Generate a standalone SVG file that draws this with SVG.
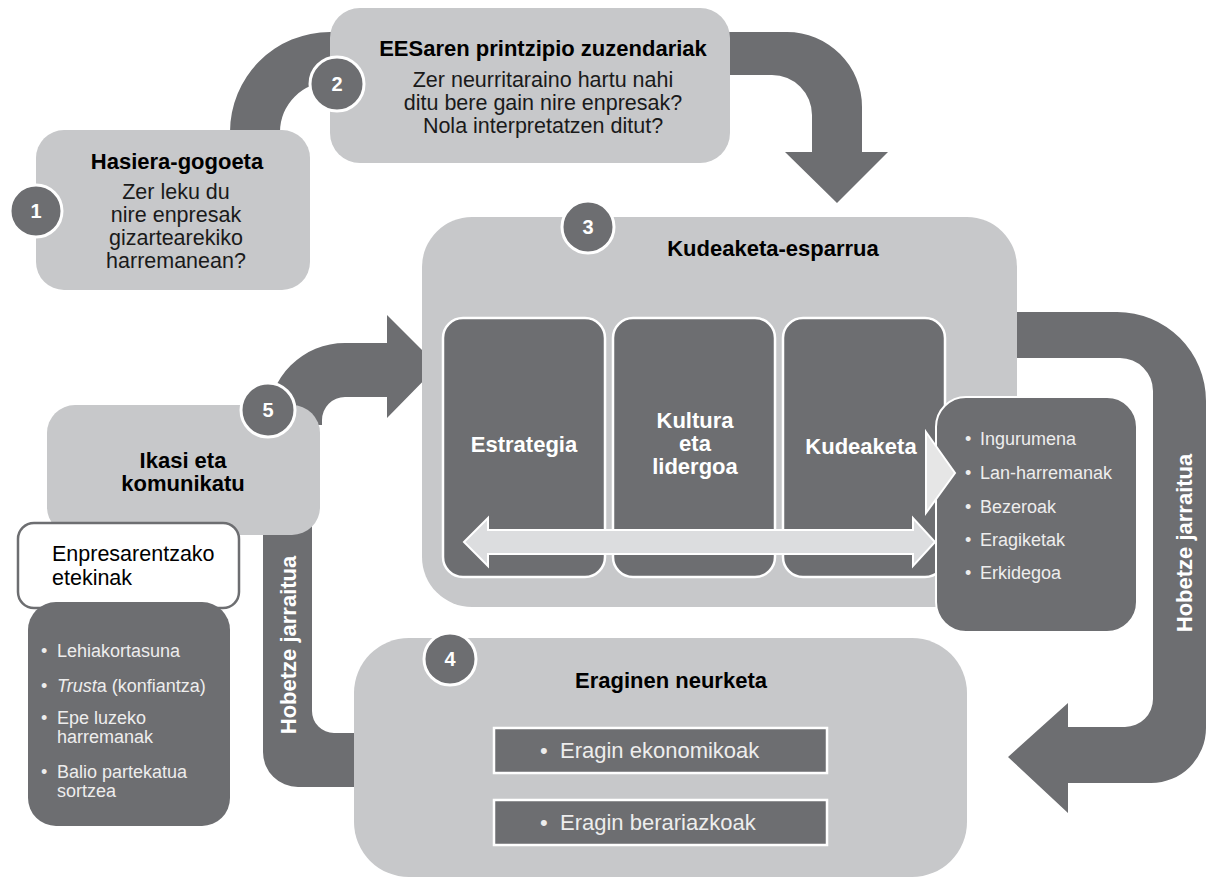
<svg xmlns="http://www.w3.org/2000/svg" width="1210" height="879" viewBox="0 0 1210 879">
<defs>
<style>
.lt{fill:#c7c8ca}
.band{fill:#6d6e71}
.title{font-family:"Liberation Sans",Arial,sans-serif;font-weight:bold;font-size:22px;fill:#000;text-anchor:middle}
.body{font-family:"Liberation Sans",Arial,sans-serif;font-size:21.5px;fill:#1a1a1a;text-anchor:middle}
.num{font-family:"Liberation Sans",Arial,sans-serif;font-weight:bold;font-size:20px;fill:#fff;text-anchor:middle}
.circ{fill:#6d6e71;stroke:#fff;stroke-width:3}
.inner{fill:#6d6e71;stroke:#fff;stroke-width:2.5}
.wt{font-family:"Liberation Sans",Arial,sans-serif;font-weight:bold;font-size:22px;fill:#fff;text-anchor:middle}
.li{font-family:"Liberation Sans",Arial,sans-serif;font-size:18px;fill:#ededed}
.eff{font-family:"Liberation Sans",Arial,sans-serif;font-size:22px;fill:#ededed}
.hd{font-family:"Liberation Sans",Arial,sans-serif;font-size:21.5px;fill:#000}
</style>
</defs>
<rect width="1210" height="879" fill="#fff"/>

<g id="connectors">
  <path class="band" d="M230 134 L230 132 A100 100 0 0 1 330 32 L360 32 L360 82 L330 82 A50 50 0 0 0 280 132 L280 134 Z"/>
  <path class="band" d="M700 32 L787 32 A75 75 0 0 1 862 107 L862 152 L888 152 L837 203 L785 152 L812 152 L812 115 A40 40 0 0 0 772 75 L700 75 Z"/>
  <path class="band" d="M990 312 L1117 312 A89 89 0 0 1 1206 401 L1206 728 A55 55 0 0 1 1151 783 L1068 783 L1068 813 L1008 757 L1068 703 L1068 727 L1125 727 A28 28 0 0 0 1153 699 L1153 391 A33 33 0 0 0 1120 358 L990 358 Z"/>
  <path class="band" d="M263 520 L263 752 A35 35 0 0 0 298 787 L380 787 L380 733 L334 733 A22 22 0 0 1 312 711 L312 520 Z"/>
  <path class="band" d="M268 425 L268 420 A77 77 0 0 1 345 343 L387 343 L387 315 L438 366 L387 418 L387 397 L345 397 A23 23 0 0 0 322 420 L322 425 Z"/>
  <text class="wt" transform="translate(1192,543) rotate(-90)">Hobetze jarraitua</text>
  <text class="wt" transform="translate(296,645) rotate(-90)">Hobetze jarraitua</text>
</g>

<g id="node1">
  <rect class="lt" x="36" y="130" width="274" height="160" rx="28"/>
  <text class="title" x="177" y="169">Hasiera-gogoeta</text>
  <text class="body" x="176" y="199">Zer leku du</text>
  <text class="body" x="176" y="222">nire enpresak</text>
  <text class="body" x="176" y="245">gizartearekiko</text>
  <text class="body" x="176" y="268">harremanean?</text>
  <circle class="circ" cx="36" cy="211" r="26"/>
  <text class="num" x="36" y="218">1</text>
</g>

<g id="node2">
  <rect class="lt" x="330" y="8" width="400" height="155" rx="30"/>
  <text class="title" x="543" y="56">EESaren printzipio zuzendariak</text>
  <text class="body" x="543" y="87">Zer neurritaraino hartu nahi</text>
  <text class="body" x="543" y="110">ditu bere gain nire enpresak?</text>
  <text class="body" x="543" y="133">Nola interpretatzen ditut?</text>
  <circle class="circ" cx="337" cy="84" r="27"/>
  <text class="num" x="337" y="91">2</text>
</g>

<g id="node3">
  <rect class="lt" x="422" y="217" width="595" height="390" rx="50"/>
  <text class="title" x="773" y="256">Kudeaketa-esparrua</text>
  <circle class="circ" cx="588" cy="227" r="26"/>
  <text class="num" x="588" y="234">3</text>
  <g id="node3-estrategia">
    <rect class="inner" x="443" y="318" width="162" height="259" rx="20"/>
    <text class="wt" x="524" y="452">Estrategia</text>
  </g>
  <g id="node3-kultura">
    <rect class="inner" x="613" y="318" width="162" height="259" rx="20"/>
    <text class="wt" x="695" y="428">Kultura</text>
    <text class="wt" x="695" y="451">eta</text>
    <text class="wt" x="695" y="474">lidergoa</text>
  </g>
  <g id="node3-kudeaketa">
    <rect class="inner" x="783" y="318" width="162" height="259" rx="20"/>
    <text class="wt" x="861" y="454">Kudeaketa</text>
  </g>
  <path id="double-arrow" d="M464 542 L488 518 L488 530 L913 530 L913 518 L935 542 L913 566 L913 554 L488 554 L488 566 Z" fill="#dcdddf" stroke="#fff" stroke-width="2"/>
</g>

<g id="node-areas">
  <rect x="936" y="397" width="201" height="235" rx="30" fill="#6d6e71" stroke="#fff" stroke-width="2"/>
  <text class="li" x="965" y="445">•<tspan x="980">Ingurumena</tspan></text>
  <text class="li" x="965" y="479">•<tspan x="980">Lan-harremanak</tspan></text>
  <text class="li" x="965" y="513">•<tspan x="980">Bezeroak</tspan></text>
  <text class="li" x="965" y="546">•<tspan x="980">Eragiketak</tspan></text>
  <text class="li" x="965" y="579">•<tspan x="980">Erkidegoa</tspan></text>
</g>

<g id="chevron">
  <path d="M926 432 L955 473 L926 513 Z" fill="#e6e6e6" stroke="#fff" stroke-width="2"/>
</g>

<g id="node4">
  <rect class="lt" x="354" y="638" width="613" height="239" rx="55"/>
  <text class="title" x="671" y="688">Eraginen neurketa</text>
  <circle class="circ" cx="450" cy="659" r="26"/>
  <text class="num" x="450" y="666">4</text>
  <rect class="inner" x="494" y="728" width="333" height="45"/>
  <text class="eff" x="540" y="758">•<tspan x="560">Eragin ekonomikoak</tspan></text>
  <rect class="inner" x="494" y="800" width="333" height="45"/>
  <text class="eff" x="540" y="830">•<tspan x="560">Eragin berariazkoak</tspan></text>
</g>

<g id="node5">
  <rect class="lt" x="47" y="405" width="273" height="130" rx="28"/>
  <text class="title" x="183" y="468">Ikasi eta</text>
  <text class="title" x="183" y="491">komunikatu</text>
  <circle class="circ" cx="268" cy="410" r="27"/>
  <text class="num" x="268" y="417">5</text>
</g>

<g id="benefits">
  <rect x="18" y="523" width="221" height="85" rx="16" fill="#fff" stroke="#6d6e71" stroke-width="2.5"/>
  <text class="hd" x="52" y="561">Enpresarentzako</text>
  <text class="hd" x="52" y="585">etekinak</text>
  <rect x="28" y="602" width="202" height="224" rx="28" fill="#6d6e71"/>
  <text class="li" x="41" y="657">•<tspan x="57">Lehiakortasuna</tspan></text>
  <text class="li" x="41" y="692">•<tspan x="57" font-style="italic">Trust</tspan>a (konfiantza)</text>
  <text class="li" x="41" y="724">•<tspan x="57">Epe luzeko</tspan></text>
  <text class="li" x="57" y="743">harremanak</text>
  <text class="li" x="41" y="778">•<tspan x="57">Balio partekatua</tspan></text>
  <text class="li" x="57" y="797">sortzea</text>
</g>
</svg>
